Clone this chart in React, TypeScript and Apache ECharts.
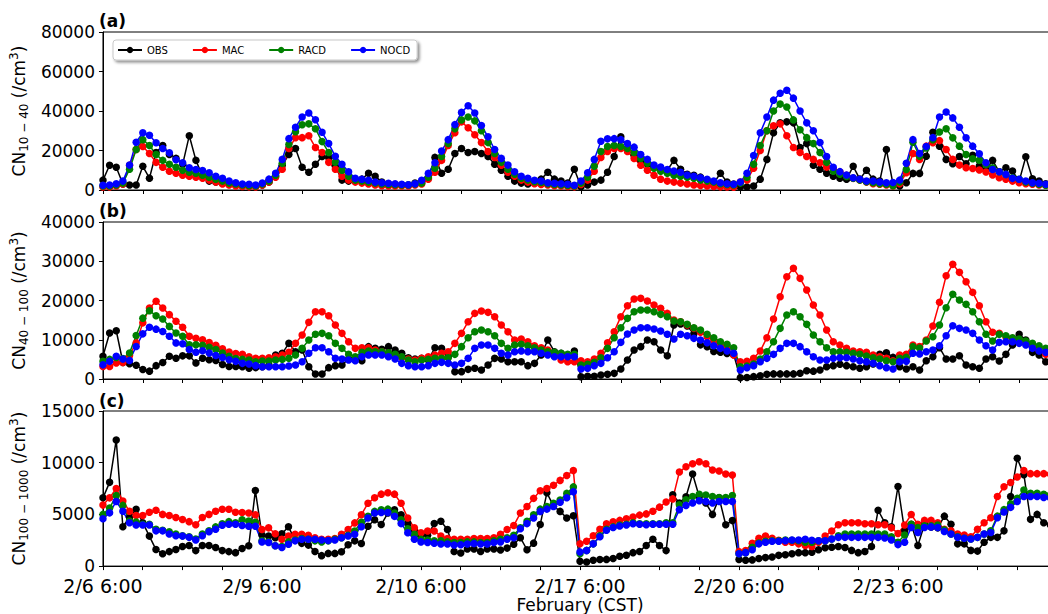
import React, { useEffect, useRef } from 'react';
import * as echarts from 'echarts';

const FONT = 'DejaVu Sans';
const X_TICK_LABELS = ['2/6 6:00', '2/9 6:00', '2/10 6:00', '2/17 6:00', '2/20 6:00', '2/23 6:00'];
const SERIES_NAMES = ['OBS', 'MAC', 'RACD', 'NOCD'];
const SERIES_COLORS = ['#000000', '#ff0000', '#008000', '#0000ff'];

// ---- Panel (a): CN 10-40 ----
const OBS_A = [
  5000, 12500, 11500, 3000, 2500, 2500, 12000, 6000, 19000, 22500, 18000, 16000, 13000, 27500, 15000, 7000, 4500, 4000, 3500, 3000, 2500, 2000, 2000, 2000,
  2500, 4000, 7000, 12500, 18000, 21000, 11500, 9000, 13000, 17000, 16500, 12000, 5000, 4500, 4500, 5500, 8500, 7000, 4000, 3000, 2500, 2500, 2500, 3500,
  3500, 6000, 16500, 8500, 10500, 18500, 21000, 19000, 19500, 18500, 17000, 13000, 10000, 7000, 4500, 3500, 3000, 3500, 5500, 9000, 5500, 4500, 3500, 10500,
  1700, 2500, 4000, 5000, 9000, 17000, 27000, 21000, 17500, 15000, 13000, 11500, 10500, 10000, 15000, 10500, 8000, 7500, 6500, 5000, 3500, 8500, 4000, 3000,
  1500, 1500, 2000, 5500, 15500, 29000, 34000, 34500, 34000, 21500, 23500, 12500, 10500, 8500, 7000, 6000, 5500, 12000, 5500, 10000, 5500, 4500, 20500, 3000,
  2000, 3700, 8400, 8400, 17100, 29200, 22200, 15500, 13300, 17000, 13300, 17600, 12100, 10100, 15000, 9200, 11300, 9600, 4500, 16800, 5700, 4500, 3200, 2900,
];
const MAC_A = [
  1500, 1500, 2000, 3000, 12500, 20500, 22000, 18500, 14000, 11500, 9500, 8500, 7500, 7000, 6500, 6000, 5000, 4000, 3000, 2500, 2000, 1800, 1600, 1500,
  2500, 4000, 6500, 10500, 21000, 26500, 26500, 27500, 21500, 19000, 14000, 10500, 7000, 5000, 4000, 3500, 3000, 2500, 2200, 2000, 2000, 2000, 2000, 2500,
  3000, 5500, 9000, 15000, 22500, 29000, 34500, 31500, 28000, 24000, 19500, 16500, 12500, 9000, 7000, 5000, 4000, 3200, 2800, 2500, 2200, 2000, 1800, 1600,
  2800, 5000, 9500, 16500, 19500, 21000, 21000, 19500, 16000, 12500, 10000, 7500, 5500, 4500, 4000, 3500, 3000, 2500, 2300, 2000, 1800, 1600, 1500, 1400,
  4000, 5000, 11000, 20000, 30000, 32500, 33500, 27500, 21500, 19000, 17000, 15500, 13800, 11600, 10400, 9100, 7400, 5900, 5000, 4000, 3200, 2900, 2500, 2000,
  3200, 8700, 18500, 15500, 22200, 23900, 25000, 20500, 15500, 12600, 11300, 10900, 10100, 9100, 7600, 6200, 5400, 4500, 3700, 3200, 2900, 2500, 2400, 2000,
];
const RACD_A = [
  2000, 2000, 2500, 3500, 10500, 20500, 25500, 22500, 18000, 15000, 13000, 11500, 10000, 9000, 8500, 7500, 6500, 5500, 4500, 3500, 3000, 2500, 2200, 2000,
  3000, 4500, 7500, 13500, 23000, 29500, 33000, 33500, 31000, 24500, 19000, 14000, 10000, 7000, 5000, 4500, 4000, 3500, 3000, 2800, 2600, 2500, 2500, 3000,
  3500, 6500, 11000, 17000, 23500, 31000, 35500, 37000, 35000, 30000, 24000, 18500, 14000, 10500, 8000, 6000, 5000, 4200, 3800, 3200, 2800, 2500, 2300, 2000,
  3500, 6500, 12000, 19500, 22000, 22500, 22000, 21000, 19000, 16000, 13500, 11000, 9500, 8500, 7500, 7000, 6500, 6000, 5000, 4500, 4000, 3200, 2800, 2500,
  3500, 6500, 13000, 22500, 30000, 40000, 43500, 42000, 35500, 30500, 26500, 23500, 19000, 14000, 9500, 8000, 6800, 6000, 5000, 4200, 3700, 3200, 2900, 2200,
  4000, 10400, 24200, 17100, 21300, 25500, 29400, 31000, 26400, 22200, 18000, 15800, 15100, 12900, 11300, 9200, 7900, 6200, 5400, 4000, 3400, 2900, 2400, 2000,
];
const NOCD_A = [
  2400, 2500, 3200, 4500, 12600, 24200, 29000, 27700, 23900, 21000, 18800, 15300, 13800, 11300, 10400, 9900, 8700, 7000, 5900, 4500, 3700, 3000, 2900, 2500,
  3500, 5500, 8500, 15500, 26000, 31800, 37000, 39000, 35600, 29200, 23500, 17100, 13000, 9200, 5900, 5400, 4900, 4000, 3700, 3400, 3200, 2900, 2700, 3200,
  4900, 8400, 13800, 19700, 25500, 33100, 39300, 42700, 39000, 32600, 26900, 20500, 16000, 12600, 9200, 7000, 5900, 4900, 4500, 3700, 3400, 3200, 2900, 2400,
  4500, 8700, 15500, 24700, 25900, 26000, 25500, 23500, 21700, 18000, 15500, 12600, 11600, 10400, 9600, 9000, 7600, 7000, 6200, 5400, 4500, 3700, 3200, 2900,
  4000, 8500, 17500, 29000, 37000, 45500, 49000, 50500, 46500, 40000, 34000, 30000, 24000, 17000, 11500, 9300, 7600, 6200, 5400, 4600, 4500, 4000, 3700, 3800,
  5000, 13500, 25500, 18500, 22000, 26500, 37000, 39500, 36500, 31800, 26400, 22200, 18300, 13800, 10400, 9200, 7900, 5900, 5400, 4500, 3700, 3400, 2900, 2500,
];

// ---- Panel (b): CN 40-100 ----
const OBS_B = [
  5800, 11700, 12300, 4200, 3900, 3500, 2400, 2000, 3400, 4200, 5800, 5300, 5900, 5900, 4100, 5300, 4900, 4700, 3700, 3200, 3200, 3140, 2720, 2900,
  3140, 3500, 6110, 6540, 9080, 6960, 7390, 3140, 1270, 1270, 2890, 3400, 3570, 5090, 5260, 4670, 8240, 7810, 7560, 8240, 7390, 6540, 5430, 5090,
  5260, 4840, 7980, 7810, 5690, 1870, 1870, 2460, 2720, 2290, 3570, 5260, 5090, 4410, 4410, 4410, 3400, 3990, 6110, 9930, 6960, 6540, 6110, 7130,
  590, 700, 700, 1020, 1190, 1440, 2550, 4840, 7390, 8240, 9930, 9510, 7390, 5940, 13750, 14000, 13500, 11500, 8700, 8200, 7000, 6800, 6500, 6200,
  300, 400, 600, 800, 1200, 1300, 1300, 1300, 1300, 1450, 2100, 2000, 2300, 3140, 3400, 3740, 3400, 3140, 2720, 3140, 3820, 6280, 6700, 5500,
  3140, 2550, 3140, 2290, 4670, 5690, 7980, 5090, 5090, 5940, 3570, 3140, 2720, 5090, 5690, 4580, 6280, 8660, 11380, 9930, 6790, 6110, 4410, 4000,
];
const MAC_B = [
  3200, 3200, 4100, 4200, 6000, 9200, 14300, 18100, 19800, 18100, 16400, 14700, 13200, 10900, 10400, 10000, 9300, 8600, 7700, 6900, 6500, 6280, 5690, 5260,
  5260, 5430, 5690, 6110, 6790, 9080, 11200, 14430, 17150, 17150, 16130, 13750, 11630, 9510, 7810, 7980, 7980, 7390, 6960, 6540, 6110, 5430, 5090, 4840,
  5260, 5690, 6110, 6540, 6960, 9080, 11630, 14600, 16720, 17320, 16980, 15880, 13750, 12060, 9930, 10190, 9510, 8490, 7980, 7390, 6110, 4840, 4410, 4410,
  4670, 4410, 5090, 6540, 9250, 12060, 15880, 18680, 20380, 20550, 19870, 18850, 18000, 16720, 15030, 14600, 13750, 12900, 11880, 10780, 9680, 8490, 7640, 6110,
  4410, 4500, 5260, 7130, 10530, 15280, 20970, 26060, 28190, 25640, 22670, 18850, 16300, 12480, 9510, 8660, 7810, 7130, 6960, 6790, 6110, 5690, 5260, 4670,
  6110, 6300, 8660, 8300, 9930, 13500, 19530, 26320, 29210, 27170, 24790, 22070, 18680, 14600, 11890, 11630, 10780, 10360, 9680, 9080, 8300, 7390, 6280, 6100,
];
const RACD_B = [
  4500, 5000, 5500, 5200, 6600, 11100, 15500, 17400, 16100, 15300, 13400, 11700, 10900, 8700, 8700, 8600, 8100, 7500, 6600, 5800, 5200, 5000, 4840, 4410,
  4580, 4580, 4840, 5000, 5260, 6110, 7810, 9930, 11380, 11630, 11040, 9080, 7810, 6280, 5690, 6790, 7130, 6960, 6960, 6700, 6280, 5690, 4840, 4410,
  4840, 5000, 5260, 5260, 5430, 6280, 8240, 10530, 12060, 12480, 12060, 11040, 9080, 7810, 8660, 8830, 8490, 7980, 7390, 6960, 6790, 6540, 6280, 6280,
  3570, 3740, 4240, 5430, 7810, 10530, 13070, 15450, 17150, 17580, 17580, 17150, 16470, 15880, 14770, 14600, 13920, 13070, 12480, 11380, 10530, 9510, 8830, 7980,
  3140, 3300, 3800, 5090, 6960, 9510, 12900, 16300, 17150, 15880, 13920, 11210, 9510, 7980, 6960, 6960, 6790, 6540, 6300, 5860, 5430, 5090, 4670, 4410,
  5260, 5500, 8240, 7900, 9680, 10780, 13750, 18170, 21570, 20120, 19020, 17150, 14600, 11380, 9680, 11380, 11040, 10530, 10190, 9680, 9080, 8490, 7810, 7390,
];
const NOCD_B = [
  3600, 4500, 5800, 5100, 4700, 8300, 11500, 13200, 12700, 12100, 10900, 9200, 9000, 7500, 6800, 7200, 6600, 6000, 5500, 4900, 4500, 3990, 3820, 3400,
  3140, 3140, 3140, 3140, 3310, 3570, 4410, 6540, 7980, 7980, 6960, 5260, 5090, 4840, 4670, 5690, 6110, 6110, 6110, 5690, 5090, 3990, 3400, 3140,
  3140, 3400, 3990, 4240, 3990, 3570, 3990, 5260, 7810, 8660, 8660, 7810, 6540, 6110, 6960, 7130, 6960, 6960, 6540, 6110, 5690, 5690, 5690, 5690,
  2550, 2720, 3400, 3990, 5430, 6960, 9340, 11460, 12480, 13070, 13070, 12730, 12230, 11380, 10190, 11380, 11040, 10360, 9930, 9250, 8490, 7810, 7130, 6540,
  2300, 2890, 3400, 4410, 5260, 6280, 7810, 9080, 9080, 8240, 6960, 5690, 4840, 4840, 5260, 5430, 5430, 5090, 4670, 4410, 3990, 3400, 2890, 2550,
  4410, 4500, 6540, 6400, 6960, 7390, 8490, 11040, 13580, 12900, 12480, 11630, 9930, 8490, 7390, 9340, 9510, 9510, 9080, 8660, 7810, 7130, 6790, 6280,
];

// ---- Panel (c): CN 100-1000 ----
const OBS_C = [
  6600, 8100, 12200, 3800, 4700, 5500, 4200, 2900, 1600, 1200, 1400, 1600, 1900, 2000, 1500, 2000, 2000, 1800, 1500, 1400, 1300, 1710, 1960, 7300,
  3000, 2900, 2750, 3130, 3800, 2500, 2200, 2030, 1420, 1010, 1230, 1230, 1390, 2060, 2440, 2180, 3860, 4490, 4020, 5130, 5440, 4970, 4180, 3540,
  2980, 2980, 4110, 4340, 3540, 1420, 1270, 1650, 1650, 1420, 1650, 1650, 1550, 1740, 2120, 2750, 1580, 2220, 4020, 7090, 5820, 5290, 4650, 4870,
  470, 400, 570, 630, 650, 730, 950, 1050, 1300, 1420, 2000, 2600, 2000, 1500, 6900, 6100, 6700, 8900, 6700, 6100, 5000, 6600, 4000, 4400,
  630, 570, 600, 730, 820, 880, 1040, 1100, 1200, 1300, 1300, 1350, 1580, 1770, 1830, 1900, 1800, 1520, 1300, 1420, 1900, 5400, 4200, 3800,
  7700, 3400, 4040, 1990, 4040, 3790, 3700, 4830, 4040, 2150, 2150, 1520, 1450, 2300, 2780, 2780, 3410, 6730, 10420, 8840, 4520, 5000, 4200, 4000,
];
const MAC_C = [
  5900, 6600, 7500, 6300, 5300, 4900, 4900, 5200, 5400, 5000, 4900, 4700, 4500, 4300, 4000, 4700, 5000, 5300, 5500, 5500, 5200, 5190, 5130, 4970,
  3540, 3700, 3130, 2600, 2910, 3070, 3070, 2980, 2750, 2600, 2600, 2660, 3070, 3540, 4180, 4970, 6080, 6610, 6960, 7090, 6960, 6080, 4650, 3700,
  3230, 3390, 3390, 2910, 2660, 2600, 2600, 2600, 2660, 2660, 2660, 2750, 3070, 3540, 3920, 5130, 5760, 6550, 7280, 7500, 7820, 8290, 8770, 9240,
  2150, 2400, 2940, 3570, 4100, 4290, 4420, 4580, 4740, 4930, 5050, 5300, 5700, 6200, 6500, 9100, 9600, 9900, 10100, 9900, 9300, 9200, 8900, 8800,
  1400, 1500, 2200, 2700, 2900, 2700, 2500, 2300, 2300, 2150, 2000, 1900, 2300, 2900, 3400, 4000, 4200, 4200, 4200, 4100, 4100, 4000, 4000, 3700,
  3160, 3980, 4990, 4040, 4420, 4420, 4200, 3570, 3410, 3100, 3000, 2840, 3570, 4200, 4670, 6730, 7670, 8080, 8620, 9250, 8940, 8940, 8940, 8900,
];
const RACD_C = [
  5000, 5620, 6820, 5870, 4360, 4260, 4040, 4040, 3570, 3470, 3320, 3100, 2940, 2840, 2620, 3100, 3410, 3790, 4100, 4300, 4200, 4490, 4350, 4240,
  2440, 2340, 1960, 1900, 2340, 2530, 2660, 2600, 2440, 2340, 2440, 2600, 2750, 2980, 3390, 4240, 4810, 5290, 5440, 5510, 5130, 4490, 3610, 3070,
  2600, 2530, 2440, 2440, 2340, 2280, 2280, 2340, 2340, 2280, 2280, 2440, 2600, 2750, 2980, 3700, 4340, 4970, 5510, 5760, 6080, 6390, 7030, 7660,
  1200, 1520, 2150, 2940, 3570, 3790, 3980, 4040, 4200, 4100, 4100, 4100, 4100, 4200, 4200, 5940, 6410, 6730, 6950, 6880, 6730, 6630, 6630, 6820,
  1200, 1300, 1830, 2240, 2400, 2450, 2450, 2530, 2500, 2450, 2300, 2300, 2450, 2450, 2620, 2940, 3100, 3100, 3100, 3100, 3100, 3100, 3100, 2840,
  2300, 3000, 4040, 3730, 3900, 3900, 3980, 3500, 3100, 2840, 2690, 2620, 2780, 3100, 3410, 4830, 5460, 6030, 6570, 7360, 7040, 7040, 6950, 6900,
];
const NOCD_C = [
  4580, 5150, 6250, 5300, 4200, 3980, 3980, 3980, 3410, 3410, 3100, 2940, 2900, 2780, 2530, 2940, 3320, 3570, 3950, 4040, 4040, 3920, 3860, 3860,
  2340, 2280, 1960, 1800, 2120, 2440, 2600, 2600, 2600, 2530, 2470, 2530, 2750, 2910, 3070, 3800, 4650, 5130, 5190, 5190, 4810, 4110, 3230, 2600,
  2340, 2280, 2220, 2130, 2130, 2030, 2060, 2130, 2190, 2130, 2130, 2280, 2340, 2600, 2750, 3610, 4110, 4650, 5290, 5510, 5760, 6170, 6610, 7190,
  1360, 1500, 2150, 2840, 3470, 3730, 3880, 3980, 4100, 4050, 4000, 4050, 4050, 4050, 4050, 5460, 5870, 6100, 6320, 6250, 6100, 6250, 6250, 6250,
  1200, 1300, 1580, 2150, 2300, 2400, 2400, 2460, 2530, 2530, 2600, 2500, 2450, 2450, 2620, 2780, 2780, 2780, 2780, 2780, 2780, 2780, 2720, 2530,
  2080, 2300, 3730, 3250, 3730, 3790, 3730, 3350, 3100, 2780, 2690, 2620, 2780, 3100, 3250, 4670, 5240, 5680, 6250, 6730, 6730, 6730, 6630, 6600,
];

const Y_MAX = [80000, 40000, 15000];
const Y_INTERVAL = [20000, 10000, 5000];
const Y_SUB = ['10 − 40', '40 − 100', '100 − 1000'];
const PANEL_TAGS = ['(a)', '(b)', '(c)'];
const PANEL_DATA = [
  [OBS_A, MAC_A, RACD_A, NOCD_A],
  [OBS_B, MAC_B, RACD_B, NOCD_B],
  [OBS_C, MAC_C, RACD_C, NOCD_C],
];

const GRID_TOPS = [32, 222, 411];
const GRID_HEIGHTS = [158, 157, 158];
const TAG_TOPS = [12, 202, 392];

export default function App() {
  const ref = useRef<HTMLDivElement>(null);
  useEffect(() => {
    if (!ref.current) return;
    const chart = echarts.init(ref.current, undefined, { renderer: 'svg' });
    const grids = GRID_TOPS.map((top, i) => ({
      left: 99,
      top,
      width: 960,
      height: GRID_HEIGHTS[i],
      show: true,
      borderColor: '#000',
      borderWidth: 1,
      backgroundColor: 'transparent',
    }));
    const xAxes = [0, 1, 2].map((i) => ({
      type: 'value',
      gridIndex: i,
      min: 0,
      max: 144,
      interval: 6,
      axisLine: { show: true, onZero: false, lineStyle: { color: '#000', width: 1 } },
      axisTick: { show: true, length: 4, lineStyle: { color: '#000', width: 1 } },
      splitLine: { show: false },
      axisLabel: {
        show: i === 2,
        margin: 10,
        fontSize: 19,
        lineHeight: 19,
        fontFamily: FONT,
        color: '#000',
        formatter: (v: number) => (v % 24 === 0 ? X_TICK_LABELS[v / 24] ?? '' : ''),
      },
      name: i === 2 ? 'February (CST)' : '',
      nameLocation: 'middle',
      nameGap: 28,
      nameTextStyle: { fontSize: 17, fontFamily: FONT, color: '#000' },
    }));
    const yAxes = [0, 1, 2].map((i) => ({
      type: 'value',
      gridIndex: i,
      min: 0,
      max: Y_MAX[i],
      interval: Y_INTERVAL[i],
      axisLine: { show: true, lineStyle: { color: '#000', width: 1 } },
      axisTick: { show: true, length: 4, lineStyle: { color: '#000', width: 1 } },
      splitLine: { show: false },
      axisLabel: {
        margin: 8,
        fontSize: 17,
        lineHeight: 12,
        fontFamily: FONT,
        color: '#000',
        formatter: (v: number) => String(v),
      },
      name: `{m|CN}{s|${Y_SUB[i]}}{m| (/cm}{p|3}{m|)}`,
      nameLocation: 'middle',
      nameRotate: 90,
      nameGap: 66,
      nameTextStyle: {
        color: '#000',
        fontFamily: FONT,
        rich: {
          m: { fontSize: 17, fontFamily: FONT, color: '#000', lineHeight: 22 },
          s: { fontSize: 12, fontFamily: FONT, color: '#000', lineHeight: 14, verticalAlign: 'bottom' },
          p: { fontSize: 12, fontFamily: FONT, color: '#000', lineHeight: 16, verticalAlign: 'top' },
        },
      },
    }));
    const series: any[] = [];
    PANEL_DATA.forEach((group, p) => {
      group.forEach((vals, k) => {
        series.push({
          type: 'line',
          name: SERIES_NAMES[k],
          xAxisIndex: p,
          yAxisIndex: p,
          data: vals.map((v, idx) => [idx, v]),
          symbol: 'circle',
          symbolSize: 7.5,
          showSymbol: true,
          lineStyle: { color: SERIES_COLORS[k], width: 1.5 },
          itemStyle: { color: SERIES_COLORS[k] },
          emphasis: { disabled: true },
          silent: true,
        });
      });
    });
    chart.setOption({
      animation: false,
      backgroundColor: '#fff',
      grid: grids,
      xAxis: xAxes,
      yAxis: yAxes,
      legend: {
        data: SERIES_NAMES,
        left: 113,
        top: 40,
        itemWidth: 24,
        itemHeight: 8,
        itemGap: 24,
        padding: [5, 7, 5, 4],
        textStyle: { fontSize: 10, fontFamily: FONT, color: '#000' },
        backgroundColor: '#fff',
        borderColor: '#c8c8c8',
        borderWidth: 1,
        borderRadius: 3,
        shadowColor: 'rgba(0,0,0,0.45)',
        shadowBlur: 3,
        shadowOffsetX: 2,
        shadowOffsetY: 2,
        selectedMode: false,
      },
      graphic: PANEL_TAGS.map((t, i) => ({
        type: 'text',
        left: 99,
        top: TAG_TOPS[i],
        style: { text: t, fontSize: 17, fontWeight: 'bold', fontFamily: FONT, fill: '#000' },
      })),
      series,
    });
    return () => chart.dispose();
  }, []);
  return (
    <div style={{ position: 'fixed', left: 0, top: 0, width: 1048, height: 614, overflow: 'hidden', background: '#fff' }}>
      <div ref={ref} style={{ width: 1060, height: 614 }} />
    </div>
  );
}
